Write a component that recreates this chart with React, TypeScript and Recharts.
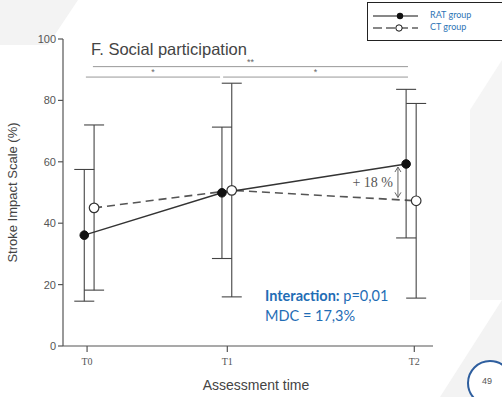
import React from 'react';
import {
  ComposedChart,
  Line,
  XAxis,
  YAxis,
  ErrorBar,
  ReferenceLine,
} from 'recharts';

// assessment times in weeks: T0, T1, T2
const tickTimes = [0, 6, 14];
const tickLabels = ['T0', 'T1', 'T2'];

// RAT group (filled), drawn slightly left of each tick
const ratTimes = [-0.12, 5.77, 13.65];
const ratMean = [36.1, 49.9, 59.3];
const ratLow = [14.6, 28.5, 35.2];
const ratHigh = [57.5, 71.3, 83.6];

// CT group (open), drawn slightly right of each tick
const ctTimes = [0.3, 6.19, 14.08];
const ctMean = [45.0, 50.7, 47.3];
const ctLow = [18.2, 16.0, 15.6];
const ctHigh = [72.0, 85.6, 79.0];

const yTicks = [0, 20, 40, 60, 80, 100];

const buildRows = (times: number[], mean: number[], low: number[], high: number[]) =>
  times.map((t, i) => ({
    t,
    v: mean[i],
    err: [mean[i] - low[i], high[i] - mean[i]],
  }));

const ratRows = buildRows(ratTimes, ratMean, ratLow, ratHigh);
const ctRows = buildRows(ctTimes, ctMean, ctLow, ctHigh);

const blue = '#1f6db5';
const ink = '#333';

const DoubleArrow = (props: any) => {
  const { x1, y1, x2, y2 } = props;
  const top = Math.min(y1, y2);
  const bot = Math.max(y1, y2);
  return (
    <g stroke="#666" strokeWidth={1} fill="none">
      <line x1={x1} y1={top} x2={x2} y2={bot} />
      <polyline points={`${x1 - 3},${top + 5} ${x1},${top} ${x1 + 3},${top + 5}`} />
      <polyline points={`${x1 - 3},${bot - 5} ${x1},${bot} ${x1 + 3},${bot - 5}`} />
    </g>
  );
};

const sigLabel = (text: string) => ({
  value: text,
  position: 'top' as const,
  offset: 2,
  fill: '#666',
  fontSize: 9,
  fontFamily: 'Liberation Sans, Arial, sans-serif',
});

export default function App() {
  return (
    <div style={{ position: 'absolute', left: 0, top: 0, width: 502, height: 397, background: '#fff', overflow: 'hidden' }}>
      <svg width={502} height={397} style={{ position: 'absolute', left: 0, top: 0 }}>
        <polygon points="0,0 78,0 48,45 0,45" fill="#f3f3f3" />
        <polygon points="470,110 502,60 502,300 470,300" fill="#f5f5f5" />
        <polygon points="440,397 502,300 502,397" fill="#f3f3f3" />
      </svg>

      <div style={{ position: 'absolute', left: 0, top: 0 }}>
        <ComposedChart width={502} height={397} margin={{ top: 39, right: 69, bottom: 0, left: 0 }}>
          <XAxis
            type="number"
            dataKey="t"
            domain={[-1.03, 14.8]}
            ticks={tickTimes}
            tickFormatter={(v: number) => tickLabels[tickTimes.indexOf(v)]}
            height={51}
            allowDataOverflow
            stroke="#555"
            strokeWidth={1.2}
            tickSize={6}
            tickMargin={6}
            tick={{ fill: '#555', fontSize: 10, fontFamily: 'Liberation Serif, serif' }}
            label={{
              value: 'Assessment time',
              position: 'insideBottom',
              offset: 7,
              dx: 8,
              fill: '#444',
              fontSize: 14,
              fontFamily: 'Liberation Sans, Arial, sans-serif',
            }}
          />
          <YAxis
            type="number"
            domain={[0, 100]}
            ticks={yTicks}
            width={63}
            stroke="#555"
            strokeWidth={1.2}
            tickSize={5}
            tick={{ fill: '#555', fontSize: 11, fontFamily: 'Liberation Sans, Arial, sans-serif' }}
            label={{
              value: 'Stroke Impact Scale (%)',
              angle: -90,
              position: 'insideLeft',
              offset: 12,
              style: { textAnchor: 'middle' },
              fill: '#444',
              fontSize: 13,
              fontFamily: 'Liberation Sans, Arial, sans-serif',
            }}
          />

          <ReferenceLine
            segment={[{ x: 0.25, y: 91 }, { x: 13.73, y: 91 }]}
            stroke="#999"
            strokeWidth={1}
            label={sigLabel('**')}
          />
          <ReferenceLine
            segment={[{ x: -0.05, y: 87.6 }, { x: 5.69, y: 87.6 }]}
            stroke="#999"
            strokeWidth={1}
            label={sigLabel('*')}
          />
          <ReferenceLine
            segment={[{ x: 5.82, y: 87.6 }, { x: 13.73, y: 87.6 }]}
            stroke="#999"
            strokeWidth={1}
            label={sigLabel('*')}
          />
          <ReferenceLine
            segment={[{ x: 13.3, y: 58.3 }, { x: 13.3, y: 48.4 }]}
            shape={DoubleArrow}
            label={{
              value: '+ 18 %',
              position: 'left',
              offset: 5,
              fill: '#555',
              fontSize: 14,
              fontFamily: 'Liberation Serif, serif',
            }}
          />

          <Line
            data={ctRows}
            dataKey="v"
            stroke="#555"
            strokeWidth={1.6}
            strokeDasharray="8 5"
            dot={{ r: 4.8, fill: '#fff', stroke: ink, strokeWidth: 1.2, strokeDasharray: '0' }}
            isAnimationActive={false}
          >
            <ErrorBar dataKey="err" direction="y" width={10} stroke="#444" strokeWidth={1.1} />
          </Line>
          <Line
            data={ratRows}
            dataKey="v"
            stroke={ink}
            strokeWidth={1.4}
            dot={{ r: 4.3, fill: '#111', stroke: '#111', strokeWidth: 1 }}
            isAnimationActive={false}
          >
            <ErrorBar dataKey="err" direction="y" width={10} stroke="#444" strokeWidth={1.1} />
          </Line>
        </ComposedChart>
      </div>

      <div style={{ position: 'absolute', left: 91, top: 40, fontFamily: 'Liberation Sans, Arial, sans-serif', fontSize: 16.5, color: '#444', whiteSpace: 'nowrap' }}>
        F. Social participation
      </div>

      <div style={{ position: 'absolute', left: 265, top: 286, fontFamily: 'Lato, sans-serif', fontSize: 14.5, color: blue, lineHeight: '20px', whiteSpace: 'nowrap' }}>
        <div><b>Interaction:</b> p=0,01</div>
        <div>MDC = 17,3%</div>
      </div>

      <div style={{ position: 'absolute', left: 367, top: 2, width: 140, height: 37, border: '1px solid #222', background: '#fff' }}>
        <svg width={60} height={36} style={{ position: 'absolute', left: 0, top: 0 }}>
          <line x1={5} y1={13} x2={50} y2={13} stroke="#111" strokeWidth={1.2} />
          <circle cx={32} cy={13} r={3.2} fill="#111" />
          <line x1={5} y1={25} x2={50} y2={25} stroke="#111" strokeWidth={1.2} strokeDasharray="9 4" />
          <circle cx={31} cy={25} r={3.2} fill="#fff" stroke="#111" strokeWidth={1} />
        </svg>
        <div style={{ position: 'absolute', left: 62, top: 6, fontFamily: 'Lato, sans-serif', fontSize: 9, color: '#2e75b6', lineHeight: '12px', whiteSpace: 'nowrap' }}>
          <div>RAT group</div>
          <div>CT group</div>
        </div>
      </div>

      <div style={{ position: 'absolute', left: 467, top: 360, width: 42, height: 42, borderRadius: '50%', border: '2px solid #2e5e9e', background: '#fff' }} />
      <div style={{ position: 'absolute', left: 482, top: 376, fontFamily: 'Liberation Sans, Arial, sans-serif', fontSize: 9, color: '#555' }}>49</div>
    </div>
  );
}
